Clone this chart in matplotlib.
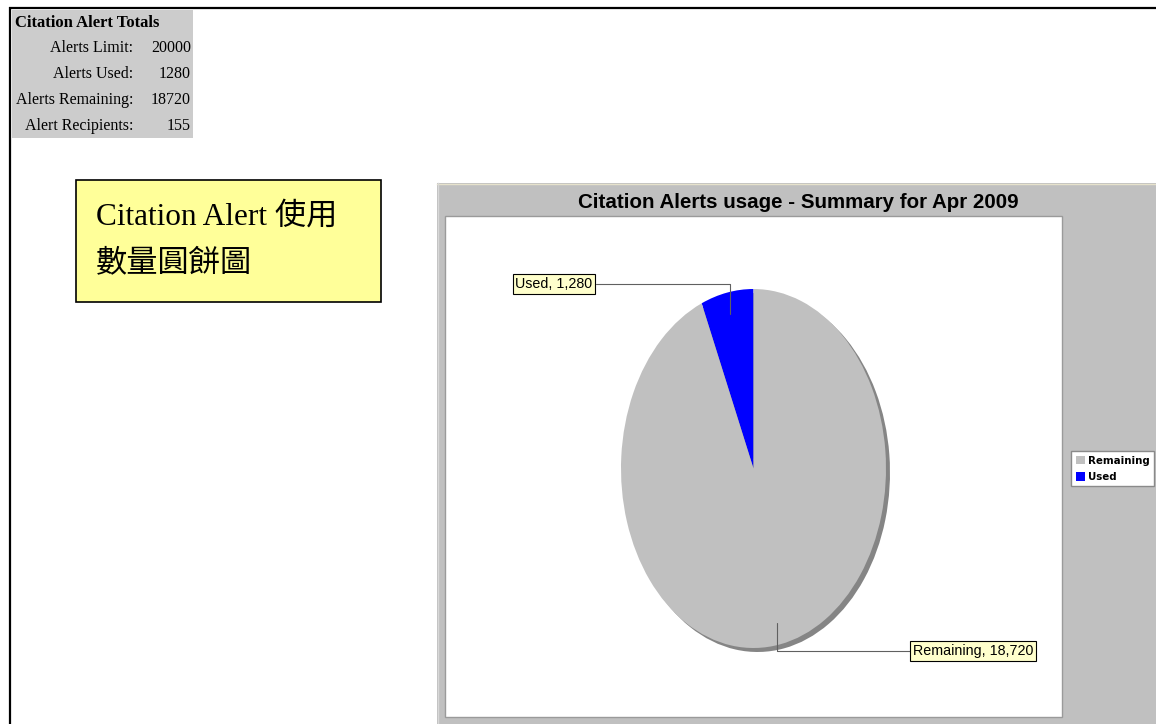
import numpy as np
import matplotlib
matplotlib.use("Agg")
import matplotlib.pyplot as plt
from matplotlib.patches import Rectangle, Patch

W, H = 1156, 724

# D A T A
categories = ["Used", "Remaining"]
counts = [1280, 18720]
slice_colors = ["#0000ff", "#c0c0c0"]
legend_order = ["Remaining", "Used"]

totals_title = "Citation Alert Totals"
totals_labels = ["Alerts Limit:", "Alerts Used:", "Alerts Remaining:", "Alert Recipients:"]
totals_values = [20000, 1280, 18720, 155]

chart_title = "Citation Alerts usage - Summary for Apr 2009"
note_lines = ["Citation Alert 使用", "數量圓餅圖"]

fig = plt.figure(figsize=(W / 100, H / 100), dpi=100)
fig.patch.set_facecolor("white")

# background axes in pixel coordinates (y down)
bg = fig.add_axes([0, 0, 1, 1])
bg.set_xlim(0, W)
bg.set_ylim(H, 0)
bg.axis("off")

# page frame
bg.plot([9, W], [8, 8], color="black", lw=1.6, solid_capstyle="butt")
bg.plot([10, 10], [7, H], color="black", lw=1.6, solid_capstyle="butt")

# totals table
serif = ["Liberation Serif", "DejaVu Serif"]
bg.add_patch(Rectangle((12, 10), 181, 128, fc="#cccccc", ec="none"))
bg.text(15, 23, totals_title, fontsize=12, weight="bold", family=serif, va="center")
for i, (lab, val) in enumerate(zip(totals_labels, totals_values)):
    y = 48 + 26 * i
    bg.text(133, y, lab, fontsize=11.5, family=serif, va="center", ha="right")
    bg.text(191, y, str(val), fontsize=11.5, family=serif, va="center", ha="right")

# yellow note box
bg.add_patch(Rectangle((76, 180), 305, 122, fc="#ffff99", ec="black", lw=1.2))
note_font = ["Liberation Serif", "Noto Sans CJK TC"]
bg.text(96, 217, note_lines[0], fontsize=22.5, family=note_font, va="center")
bg.text(96, 265, note_lines[1], fontsize=22.5, family=note_font, va="center")

# chart panel
bg.add_patch(Rectangle((437, 183), W - 437, H - 183, fc="#c0c0c0", ec="none"))
bg.plot([437, W], [183.5, 183.5], color="#e6e2cc", lw=1)
bg.plot([437.5, 437.5], [183, H], color="#d8d8d8", lw=1)
bg.add_patch(Rectangle((445, 216), 617, 501, fc="white", ec="#9a9a9a", lw=1))
bg.text(798, 202, chart_title, fontsize=14.8, weight="bold",
        family=["Liberation Sans", "DejaVu Sans"], ha="center", va="center")

# pie (ellipse) with shadow
pie_box = [621, 289, 265, 359]  # x, y, w, h in pixels
sx, sy = 4, 4


def pie_axes(dx, dy):
    x, y, w, h = pie_box
    return fig.add_axes([(x + dx) / W, (H - (y + dy) - h) / H, w / W, h / H])


ax_shadow = pie_axes(sx, sy)
ax_shadow.pie(counts, colors=["#858585"] * len(counts), startangle=90,
              wedgeprops=dict(linewidth=0))
ax_shadow.set_aspect("auto")
ax_shadow.set_xlim(-1, 1)
ax_shadow.set_ylim(-1, 1)
ax_shadow.axis("off")

ax = pie_axes(0, 0)
wedges, _ = ax.pie(counts, colors=slice_colors, startangle=90,
                   wedgeprops=dict(linewidth=0))
ax.set_aspect("auto")
ax.set_xlim(-1, 1)
ax.set_ylim(-1, 1)
ax.axis("off")

label_pos = {"Used": (554, 284), "Remaining": (973, 651)}
for w, cat, val in zip(wedges, categories, counts):
    mid = np.deg2rad((w.theta1 + w.theta2) / 2)
    anchor = (0.88 * np.cos(mid), 0.88 * np.sin(mid))
    ax.annotate(f"{cat}, {val:,}", xy=anchor, xycoords="data",
                xytext=label_pos[cat], textcoords=bg.transData,
                ha="center", va="center", fontsize=10.3,
                family=["Liberation Sans", "DejaVu Sans"],
                bbox=dict(boxstyle="square,pad=0.18", fc="#ffffcc", ec="black", lw=0.8),
                arrowprops=dict(arrowstyle="-", color="#606060", lw=0.8,
                                connectionstyle="angle,angleA=0,angleB=90",
                                shrinkA=0, shrinkB=0))

# legend
color_of = dict(zip(categories, slice_colors))
handles = [Patch(fc=color_of[c], ec="none", label=c) for c in legend_order]
bg.legend(handles=handles, loc="upper left", bbox_to_anchor=(1071 / W, 1 - 451 / H),
          bbox_transform=fig.transFigure, prop=dict(size=7.4, weight="bold"),
          frameon=True, fancybox=False, edgecolor="#8a8a8a", framealpha=1,
          handlelength=0.9, handleheight=0.9, handletextpad=0.3,
          borderpad=0.45, labelspacing=0.6, borderaxespad=0)

fig.savefig("out.png", dpi=100)
